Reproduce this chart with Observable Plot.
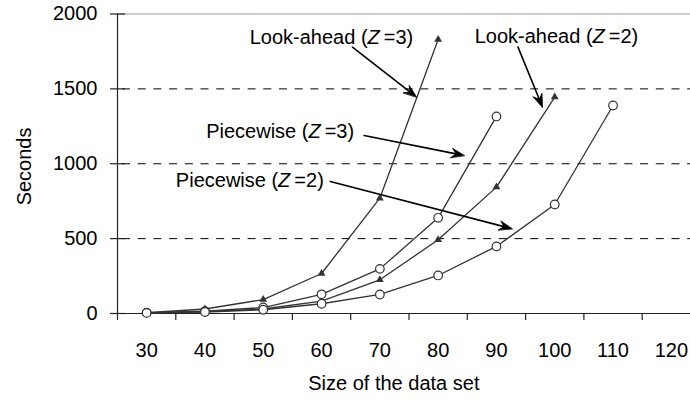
<!DOCTYPE html>
<html>
<head>
<meta charset="utf-8">
<script src="https://cdn.jsdelivr.net/npm/d3@7"></script>
<script src="https://cdn.jsdelivr.net/npm/@observablehq/plot@0.6"></script>
<style>
  html, body { margin: 0; padding: 0; background: white; overflow: hidden; }
  #chart { width: 690px; height: 405px; overflow: hidden; }
</style>
</head>
<body>
<div id="chart"></div>
<script>
// ---- data ----
const sizes = [30, 40, 50, 60, 70, 80, 90, 100, 110, 120];
const tickBoundaries = [25, 35, 45, 55, 65, 75, 85, 95, 105, 115, 125];
const yTicks = [0, 500, 1000, 1500, 2000];
const gridValues = [500, 1000, 1500];

const lookAhead3 = [5, 30, 93, 267, 770, 1830];               // sizes 30..80
const lookAhead2 = [3, 12, 30, 82, 225, 492, 844, 1445];       // sizes 30..100
const piecewise3 = [6, 15, 40, 128, 298, 639, 1316];           // sizes 30..90
const piecewise2 = [4, 10, 25, 65, 127, 254, 448, 728, 1389];  // sizes 30..110

const seriesNames = ["Look-ahead (Z=3)", "Look-ahead (Z=2)", "Piecewise (Z=3)", "Piecewise (Z=2)"];
const seriesValues = [lookAhead3, lookAhead2, piecewise3, piecewise2];
const seriesSymbols = ["triangle", "triangle", "circle", "circle"];

// annotation labels and arrows (data units)
const annText = seriesNames;
const annX = [61.7, 100.3, 52.9, 47.7];
const annY = [1842, 1850, 1217, 890];
const arrowX1 = [65.3, 93.7, 67.3, 61.5];
const arrowY1 = [1779, 1779, 1189, 882];
const arrowX2 = [76.3, 97.9, 84.5, 92.7];
const arrowY2 = [1445, 1378, 1055, 566];

const xTitle = "Size of the data set";
const yTitle = "Seconds";
const xTitleAt = 72.4;
const yTitleAt = [9.1, 982];
const yTickSpan = [23.8, 26.37];   // y-axis tick marks cross the axis

// ---- build tables ----
const rows = [];
seriesValues.forEach((vals, i) => {
  vals.forEach((v, j) => rows.push({size: sizes[j], value: v, series: seriesNames[i], symbol: seriesSymbols[i]}));
});
const anns = annText.map((t, i) => ({t, x: annX[i], y: annY[i]}));
const arrows = annText.map((t, i) => ({x1: arrowX1[i], y1: arrowY1[i], x2: arrowX2[i], y2: arrowY2[i]}));

const ink = "#222";

const chart = Plot.plot({
  width: 690,
  height: 405,
  marginLeft: 117,
  marginRight: 0,
  marginTop: 13,
  marginBottom: 92,
  x: {type: "linear", domain: [25, 125], range: [117, 700]},
  y: {domain: [0, 2000], range: [313, 13.5]},
  style: {fontFamily: "'Liberation Sans', Arial, sans-serif", fontSize: "20px", color: "#000", background: "white"},
  marks: [
    Plot.ruleY(gridValues, {stroke: "#000", strokeWidth: 1, strokeDasharray: "8,7.7", strokeDashoffset: 10.7}),
    Plot.ruleY([2000], {stroke: "#999", strokeWidth: 1.2}),
    Plot.ruleY([0], {stroke: ink, strokeWidth: 1.2}),
    Plot.ruleX([25], {y1: 0, y2: 2000, stroke: ink, strokeWidth: 1.2}),
    Plot.ruleY(yTicks, {x1: yTickSpan[0], x2: yTickSpan[1], stroke: ink, strokeWidth: 1.2}),
    Plot.axisX({ticks: tickBoundaries, tickSize: 7, tickFormat: () => "", stroke: ink, strokeWidth: 1.2, label: null}),
    Plot.axisX({ticks: sizes, tickSize: 0, tickPadding: 29, label: null, fill: "#000"}),
    Plot.axisY({ticks: yTicks, tickSize: 0, tickPadding: 20, tickFormat: d => String(d), label: null, fill: "#000"}),
    Plot.text([xTitle], {x: () => xTitleAt, frameAnchor: "bottom", dy: 76, text: d => d, fill: "#000"}),
    Plot.text([yTitle], {x: () => yTitleAt[0], y: () => yTitleAt[1], rotate: -90, text: d => d, fill: "#000"}),
    Plot.line(rows, {x: "size", y: "value", z: "series", stroke: "#333", strokeWidth: 1.3}),
    Plot.dot(rows.filter(d => d.symbol === "triangle"), {x: "size", y: "value", symbol: "triangle", r: 2.9, fill: "#333", stroke: "none"}),
    Plot.dot(rows.filter(d => d.symbol === "circle"), {x: "size", y: "value", symbol: "circle", r: 4.3, fill: "white", stroke: "#333", strokeWidth: 1.2}),
    Plot.arrow(arrows, {x1: "x1", y1: "y1", x2: "x2", y2: "y2", stroke: "#000", strokeWidth: 1.6, headLength: 13, headAngle: 40, className: "arr"}),
    Plot.text(anns, {x: "x", y: "y", text: "t", fill: "#000", className: "ann"})
  ]
});

// italic Z in the annotation labels
chart.querySelectorAll(".ann text").forEach(t => {
  const s = t.textContent;
  const i = s.indexOf("Z");
  if (i >= 0) {
    t.textContent = "";
    const a = document.createElementNS("http://www.w3.org/2000/svg", "tspan");
    a.textContent = s.slice(0, i);
    const z = document.createElementNS("http://www.w3.org/2000/svg", "tspan");
    z.textContent = "Z";
    z.setAttribute("font-style", "italic");
    const b = document.createElementNS("http://www.w3.org/2000/svg", "tspan");
    b.textContent = "\u2009" + s.slice(i + 1);
    t.append(a, z, b);
  }
});

// fill the arrowheads (stealth shape) from the arrow paths Plot produced
chart.querySelectorAll(".arr path").forEach(p => {
  const n = (p.getAttribute("d").match(/-?\d+(\.\d+)?(e-?\d+)?/g) || []).map(Number);
  if (n.length < 10) return;
  const [x1, y1, x2, y2, ax, ay, , , bx, by] = n;
  const L = Math.hypot(x2 - x1, y2 - y1);
  const ux = (x2 - x1) / L, uy = (y2 - y1) / L;
  const nx = x2 - ux * 8.5, ny = y2 - uy * 8.5;
  // shorten the head's V onto a filled polygon
  const head = document.createElementNS("http://www.w3.org/2000/svg", "path");
  head.setAttribute("d", `M${x2},${y2}L${ax},${ay}L${nx},${ny}L${bx},${by}Z`);
  head.setAttribute("fill", "#000");
  head.setAttribute("stroke", "#000");
  head.setAttribute("stroke-width", "0.8");
  head.setAttribute("stroke-linejoin", "miter");
  p.setAttribute("d", `M${x1},${y1}L${nx},${ny}`);
  p.parentNode.appendChild(head);
});

document.getElementById("chart").appendChild(chart);
</script>
</body>
</html>
